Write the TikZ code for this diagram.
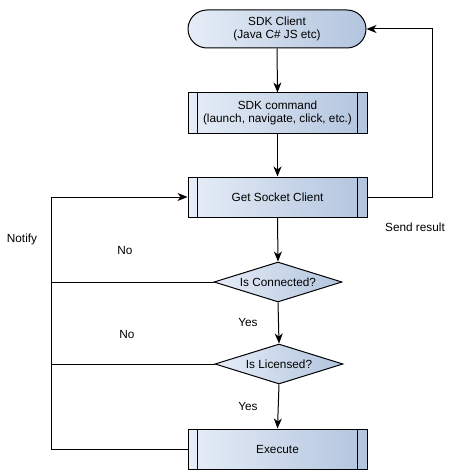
\documentclass[tikz,border=0pt]{standalone}
\usepackage{fontspec}
\setmainfont{Liberation Sans}
\usetikzlibrary{shapes.geometric,arrows.meta}
\definecolor{fillL}{HTML}{E6EDF7}
\definecolor{fillR}{HTML}{B2C4DE}
\tikzset{
  base/.style={draw=black, line width=1pt, left color=fillL, right color=fillR, font=\fontsize{11.8}{13.5}\selectfont, align=center, inner sep=0pt},
  terminal/.style={base, rectangle, rounded corners=19pt, minimum width=178pt, minimum height=38pt},
  proc/.style={base, rectangle, minimum width=179pt, minimum height=40pt},
  decision/.style={base, diamond, shape aspect=3.2, minimum width=128pt, minimum height=40pt},
  conn/.style={line width=1pt, -{Stealth[length=10pt,width=8pt,inset=3pt]}},
  plain/.style={line width=1pt},
  lbl/.style={font=\fontsize{11.8}{13.5}\selectfont, inner sep=0pt}
}
\newcommand{\sidebars}[1]{%
  \draw[plain] ([xshift=10pt]#1.north west) -- ([xshift=10pt]#1.south west);
  \draw[plain] ([xshift=-10pt]#1.north east) -- ([xshift=-10pt]#1.south east);}
\begin{document}
\begin{tikzpicture}[x=1pt,y=-1pt]
\useasboundingbox (0,0) rectangle (454,476);
\node[terminal] (client) at (277,29) {SDK Client\\(Java C\# JS etc)};
\node[proc] (cmd) at (277.5,113) {SDK command\\(launch, navigate, click, etc.)};
\node[proc] (gsc) at (277.5,197) {Get Socket Client};
\node[decision] (isconn) at (278,282) {Is Connected?};
\node[decision] (islic) at (279,364) {Is Licensed?};
\node[proc] (exec) at (277.5,449) {Execute};
\sidebars{cmd}
\sidebars{gsc}
\sidebars{exec}
\coordinate (rc) at (432,29);
\coordinate (lc) at (51,449);
\draw[conn] (client.south) -- (cmd.north);
\draw[conn] (cmd.south) -- (gsc.north);
\draw[conn] (gsc.south) -- (isconn.north);
\draw[conn] (isconn.south) -- (islic.north);
\draw[conn] (islic.south) -- (exec.north);
\draw[conn] (gsc.east) -| (rc) -- (client.east);
\draw[conn] (exec.west) -- (lc) |- (gsc.west);
\draw[plain] (isconn.west) -- (isconn.west -| lc);
\draw[plain] (islic.west) -- (islic.west -| lc);
\node[lbl] (notify) at (22,239) {Notify};
\node[lbl] (no1) at (125,250) {No};
\node[lbl] (no2) at (127,334) {No};
\node[lbl] (yes1) at (248,322) {Yes};
\node[lbl] (yes2) at (248,406) {Yes};
\node[lbl] (send) at (415,227) {Send result};
\end{tikzpicture}
\end{document}
